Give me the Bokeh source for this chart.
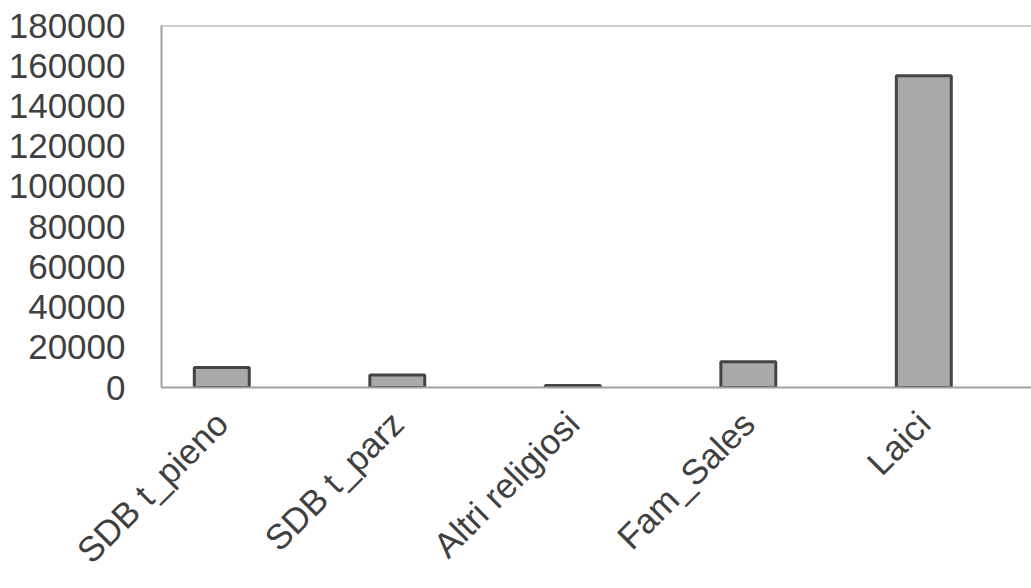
import math
from bokeh.plotting import figure
from bokeh.models import Range1d, FixedTicker, Span
from bokeh.embed import file_html
from bokeh.resources import INLINE

categories = ["SDB t_pieno", "SDB t_parz", "Altri religiosi", "Fam_Sales", "Laici"]
values = [10000, 6200, 1000, 12800, 155000]
y_ticks = [0, 20000, 40000, 60000, 80000, 100000, 120000, 140000, 160000, 180000]

bar_w = 0.313
idx = list(range(len(categories)))
centers = [i + 0.5 - bar_w / 2 for i in idx]

p = figure(width=1031, height=588, output_backend="svg", toolbar_location=None,
           x_range=Range1d(0, 4.957), y_range=Range1d(0, 180000),
           min_border_left=161, min_border_right=0, min_border_top=25,
           min_border_bottom=201)

p.vbar(x=centers, top=values, width=bar_w, bottom=0,
       fill_color="#a9a9a9", line_color="#444444", line_width=3)

p.outline_line_color = None
p.add_layout(Span(location=180000, dimension="width", line_color="#a0a0a0", line_width=2))
p.xgrid.visible = False
p.ygrid.visible = False

font = "Liberation Sans"
for ax in (p.xaxis, p.yaxis):
    ax.axis_line_color = "#a0a0a0"
    ax.axis_line_width = 2
    ax.major_tick_line_color = None
    ax.minor_tick_line_color = None
    ax.major_label_text_font = font
    ax.major_label_text_font_size = "35px"
    ax.major_label_text_color = "#404040"

p.yaxis.ticker = FixedTicker(ticks=y_ticks)
p.yaxis.major_label_overrides = {t: str(t) for t in y_ticks}
p.yaxis.major_label_standoff = 30

p.xaxis.ticker = FixedTicker(ticks=centers)
p.xaxis.major_label_overrides = {c: n for c, n in zip(centers, categories)}
p.xaxis.major_label_orientation = math.pi / 4
p.xaxis.major_label_standoff = 24

open("out.html", "w").write(file_html(p, INLINE))
